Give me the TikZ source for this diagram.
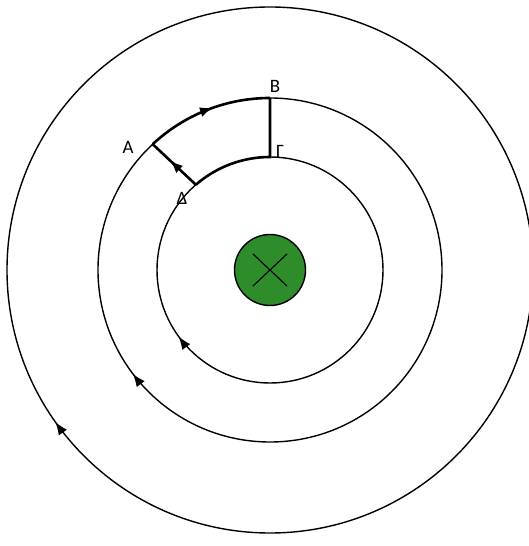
\documentclass[tikz,border=0pt]{standalone}
\usepackage{fontspec}
\setmainfont{Carlito}
\usetikzlibrary{arrows.meta,decorations.markings,positioning}

\definecolor{wiregreen}{RGB}{46,140,42}

\begin{document}
\begin{tikzpicture}[
      x=1bp, y=1bp,
      fieldline/.style={draw, line width=1.4bp},
      loopline/.style={draw, line width=2.6bp, line join=miter},
      midarrow/.style={postaction={decorate},
        decoration={markings, mark=at position #1 with {\arrow{Latex[length=13bp,width=10bp]}}}},
      lbl/.style={font=\fontsize{19}{19}\selectfont, inner sep=0pt}
    ]
      \useasboundingbox (-270,-276) rectangle (259,270);
      \coordinate (O) at (0,0);
      % field lines, clockwise around the wire
      \foreach \r/\p in {113/0.65, 172/0.647, 263/0.652}
        \draw[fieldline, midarrow=\p] (O) ++(90:\r) arc[start angle=90, end angle=-270, radius=\r];
      % wire into the page
      \node[circle, draw, line width=1.4bp, fill=wiregreen, minimum size=71bp, inner sep=0pt] (wire) at (O) {};
      \draw[line width=1.1bp] (wire.center) ++(-17,16) -- ++(34,-32);
      \draw[line width=1.1bp] (wire.center) ++(-17,-16) -- ++(34,32);
      % the loop
      \coordinate (ptA) at (133:172);
      \coordinate (ptB) at (90:172);
      \coordinate (ptG) at (90:113);
      \coordinate (ptD) at (131:113);
      \draw[loopline, midarrow=0.6] (ptD) -- (ptA);
      \draw[loopline, midarrow=0.55] (ptA) arc[start angle=133, end angle=90, radius=172];
      \draw[loopline] (ptB) -- (ptG) arc[start angle=90, end angle=131, radius=113];
      \node[lbl] (labA) at (-142,123) {A};
      \node[lbl] (labB) at (5,184) {B};
      \node[lbl] (labG) at (10,119) {Γ};
      \node[lbl] (labD) at (-88,72) {Δ};
    \end{tikzpicture}
\end{document}
